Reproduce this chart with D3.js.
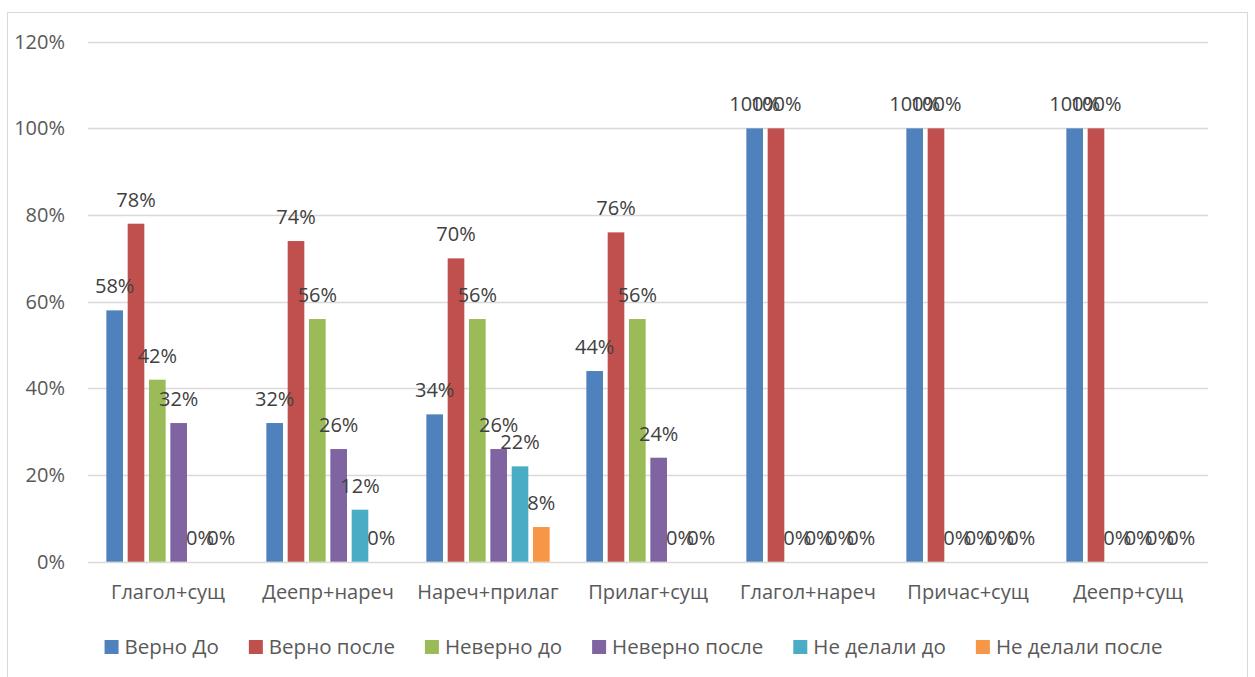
<!DOCTYPE html>
<html>
<head>
<meta charset="utf-8">
<script src="https://cdn.jsdelivr.net/npm/d3@7"></script>
<style>
  body { margin: 0; background: #fff; }
  svg { display: block; font-family: "Open Sans", "Noto Sans", sans-serif; }
</style>
</head>
<body>
<svg id="chart" width="1255" height="677"></svg>
<script>
// Categories and series
var categories = ["Глагол+сущ", "Деепр+нареч", "Нареч+прилаг", "Прилаг+сущ", "Глагол+нареч", "Причас+сущ", "Деепр+сущ"];
var seriesNames = ["Верно До", "Верно после", "Неверно до", "Неверно после", "Не делали до", "Не делали после"];
var seriesColors = ["#4F81BD", "#C0504D", "#9BBB59", "#8064A2", "#4BACC6", "#F79646"];

var verno_do = [58, 32, 34, 44, 100, 100, 100];
var verno_posle = [78, 74, 70, 76, 100, 100, 100];
var neverno_do = [42, 56, 56, 56, 0, 0, 0];
var neverno_posle = [32, 26, 26, 24, 0, 0, 0];
var ne_delali_do = [0, 12, 22, 0, 0, 0, 0];
var ne_delali_posle = [0, 0, 8, 0, 0, 0, 0];

var yTicks = [0, 20, 40, 60, 80, 100, 120];

var seriesValues = [verno_do, verno_posle, neverno_do, neverno_posle, ne_delali_do, ne_delali_posle];

// Build rows for drawing
var rows = categories.map(function(c, i) {
    return {
        category: c,
        values: seriesNames.map(function(s, j) { return {series: s, idx: j, value: seriesValues[j][i]}; })
    };
});

var svg = d3.select("#chart");

// Chart border
svg.append("rect")
    .attr("x", 7.5).attr("y", 12.5)
    .attr("width", 1240).attr("height", 700)
    .attr("fill", "none")
    .attr("stroke", "#d9d9d9")
    .attr("stroke-width", 1);

var plot = {left: 88, right: 1208, top: 41.7, bottom: 561.7};

// Scales
var x0 = d3.scaleBand().domain(categories).range([plot.left, plot.right]).paddingInner(0.2).paddingOuter(0.1);
var x1 = d3.scaleBand().domain(seriesNames).range([0, x0.bandwidth()]).paddingInner(0.22).paddingOuter(0.11);
var y = d3.scaleLinear().domain([0, 120]).range([plot.bottom, plot.top]);

// Gridlines
svg.append("g")
    .selectAll("line")
    .data(yTicks)
    .join("line")
    .attr("x1", plot.left).attr("x2", plot.right)
    .attr("y1", function(d) { return Math.round(y(d)) + 0.5; })
    .attr("y2", function(d) { return Math.round(y(d)) + 0.5; })
    .attr("stroke", "#d9d9d9")
    .attr("stroke-width", 1.5);

// Y axis labels
var yAxis = svg.append("g")
    .attr("transform", "translate(" + plot.left + ",0)")
    .call(d3.axisLeft(y).tickValues(yTicks).tickFormat(function(d) { return d + "%"; }).tickSize(0).tickPadding(23));
yAxis.select(".domain").remove();
yAxis.selectAll("text")
    .attr("font-size", "20px")
    .attr("font-family", "Open Sans, sans-serif")
    .attr("fill", "#595959");

// X axis labels
var xAxis = svg.append("g")
    .attr("transform", "translate(0," + plot.bottom + ")")
    .call(d3.axisBottom(x0).tickSize(0).tickPadding(23));
xAxis.select(".domain").remove();
xAxis.selectAll("text")
    .attr("font-size", "20px")
    .attr("font-family", "Open Sans, sans-serif")
    .attr("fill", "#595959");

// Bars
var groups = svg.append("g")
    .selectAll("g")
    .data(rows)
    .join("g")
    .attr("transform", function(d) { return "translate(" + x0(d.category) + ",0)"; });

groups.selectAll("rect")
    .data(function(d) { return d.values; })
    .join("rect")
    .attr("x", function(d) { return x1(d.series); })
    .attr("y", function(d) { return y(d.value); })
    .attr("width", x1.bandwidth())
    .attr("height", function(d) { return y(0) - y(d.value); })
    .attr("fill", function(d) { return seriesColors[d.idx]; });

// Data labels
groups.selectAll("text")
    .data(function(d) { return d.values; })
    .join("text")
    .attr("x", function(d) { return x1(d.series) + x1.bandwidth() / 2; })
    .attr("y", function(d) { return y(d.value) - 17; })
    .attr("text-anchor", "middle")
    .attr("font-size", "20px")
    .attr("fill", "#404040")
    .text(function(d) { return d.value + "%"; });

// Legend
var legend = svg.append("g");
var items = legend.selectAll("g")
    .data(seriesNames)
    .join("g");

items.append("rect")
    .attr("width", 14).attr("height", 14)
    .attr("y", -14)
    .attr("fill", function(d, i) { return seriesColors[i]; });

items.append("text")
    .attr("x", 20)
    .attr("y", 0)
    .attr("font-size", "20.5px")
    .attr("fill", "#595959")
    .text(function(d) { return d; });

var gap = 30, pos = 0, offsets = [];
items.each(function() {
    offsets.push(pos);
    pos += 20 + d3.select(this).select("text").node().getComputedTextLength() + gap;
});
var totalW = pos - gap;
var startX = 633.5 - totalW / 2;
items.attr("transform", function(d, i) { return "translate(" + (startX + offsets[i]) + ",654)"; });
</script>
</body>
</html>
